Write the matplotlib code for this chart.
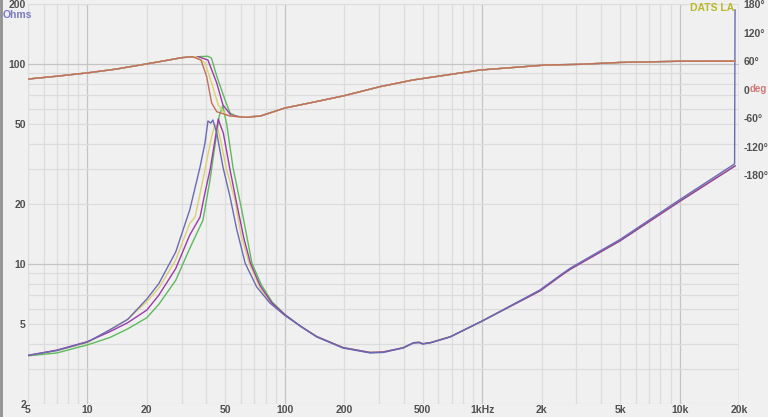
import numpy as np
import matplotlib.pyplot as plt
from matplotlib.lines import Line2D

# impedance sweeps (Hz, ohms), four measurements
blue_f = [5, 7, 10, 13, 16, 20, 23, 28, 33, 37.2, 39.4, 40.8, 42.2, 43.2, 45.2, 48.6, 52.8,
          57, 63, 72, 84, 100, 120, 145, 197, 270, 315, 397, 450, 480, 500, 550, 690, 1000,
          1960, 2560, 2800, 5000, 10000, 18600, 19000, 19100]
blue_z = [3.5, 3.7, 4.08, 4.7, 5.3, 6.7, 8.0, 11.5, 18.7, 30.6, 40.4, 52.0, 50.8, 52.6, 45.3, 30.6, 21.7,
          15.0, 10.1, 7.7, 6.4, 5.55, 4.9, 4.33, 3.81, 3.6, 3.62, 3.81, 4.04, 4.05, 3.99, 4.05, 4.33, 5.2,
          7.43, 9.0, 9.57, 13.3, 21.0, 31.3, 31.8, 187]

yellow_f = [5, 7, 10, 13, 16, 20, 23, 28, 33, 35.1, 37, 39.4, 42.2, 44.3, 46, 46.9, 50.8, 55.9,
            60, 66, 75, 86, 100]
yellow_z = [3.5, 3.7, 4.05, 4.7, 5.3, 6.5, 7.6, 10.5, 16, 17.2, 22, 29.6, 41.8, 50.2, 47, 43.1, 29.6, 20.9,
            14, 10.1, 7.6, 6.3, 5.55]

purple_f = [5, 7, 10, 13, 16, 20, 23, 28, 33, 37.2, 39.5, 41.8, 44.3, 46, 47, 48.8, 52.8, 57.9,
            62, 67, 75, 86, 100]
purple_z = [3.5, 3.72, 4.1, 4.6, 5.1, 5.9, 7.0, 9.5, 14, 17.2, 23, 29.6, 41.8, 53.2, 50, 45.3, 29.6, 18.7,
            13.5, 10.1, 7.8, 6.4, 5.6]

green_f = [5, 7, 10, 13, 16, 20, 23, 28, 33, 38.5, 41.8, 45.2, 46.5, 48.5, 50.8, 54.6, 60.5,
           64, 68.2, 76, 86, 100]
green_z = [3.48, 3.6, 3.95, 4.3, 4.75, 5.4, 6.3, 8.3, 12, 16.6, 26.4, 45.3, 55, 62, 50, 30.6, 18.7,
           14, 10.1, 7.9, 6.5, 5.6]

# shared part above 100 Hz for the three other sweeps
tail_f = [120, 145, 197, 270, 315, 397, 450, 480, 500, 550, 690, 1000, 1960, 2560, 2800,
          5000, 10000, 19100]
tail_z = [4.9, 4.35, 3.83, 3.62, 3.64, 3.82, 4.05, 4.07, 4.0, 4.06, 4.34, 5.2,
          7.35, 8.9, 9.45, 13.1, 20.6, 31.0]

# phase (degrees)
low_f = [5, 7, 10, 14, 20, 25, 30, 34]
low_p = [22, 28, 35, 43, 54, 61, 67, 69]

red_f = [37.6, 40.2, 42.6, 45.2, 52.8, 64.5, 75, 100, 119, 150, 200, 303, 445, 975,
         2100, 3100, 5000, 10000, 19100]
red_p = [62, 27, -28.4, -46.7, -55.8, -58.5, -56, -39, -32.6, -24, -13, 5.9, 20, 41,
         51.6, 53, 57, 59.5, 60]
yellow_pf = [35.5, 39.4, 42.6, 46, 50.4, 57, 66]
yellow_pp = [69, 55.8, 13.7, -32.6, -53.7, -57.5, -57.5]
purple_pf = [36.5, 40.8, 45.2, 48.6, 53.3, 60, 68]
purple_pp = [69, 62, 13.7, -32.6, -53.7, -58, -57]
green_pf = [36, 40.8, 42.5, 45.3, 49.8, 52.8, 57.3, 66]
green_pp = [69, 70, 66, 27, -22, -49.5, -57, -57.5]

xticks = [5, 10, 20, 50, 100, 200, 500, 1000, 2000, 5000, 10000, 20000]
xlabels = ['5', '10', '20', '50', '100', '200', '500', '1kHz', '2k', '5k', '10k', '20k']
yticks = [2, 5, 10, 20, 50, 100, 200]
pticks = [180, 120, 60, 0, -60, -120, -180]

c_blue = '#6a6ab4'
c_yellow = '#ddd070'
c_purple = '#9a3ca8'
c_green = '#5cbb5c'
c_red = '#c0705c'
bg = '#f0f0f0'
txt = '#505050'

plt.rcParams['font.family'] = ['Liberation Sans', 'DejaVu Sans']

fig = plt.figure(figsize=(7.68, 4.17), dpi=100, facecolor=bg)
ax = fig.add_axes([28 / 768, 13 / 417, 711 / 768, 400 / 417])
ax.set_facecolor(bg)
ax.set_xscale('log')
ax.set_yscale('log')
ax.set_xlim(5, 20000)
ax.set_ylim(2, 200)

# grid
for dec in [1, 10, 100, 1000, 10000]:
    for m in range(1, 10):
        f = dec * m
        if f < 5 or f > 20000:
            continue
        col = '#c4c4c4' if m == 1 else '#dcdcdc'
        ax.axvline(f, color=col, lw=0.9, zorder=0)
ax.axvline(20000, color='#c4c4c4', lw=1.0, zorder=0)
for dec in [1, 10, 100]:
    for m in range(1, 10):
        z = dec * m
        if z < 2 or z > 200:
            continue
        col = '#c4c4c4' if m == 1 else '#dcdcdc'
        ax.axhline(z, color=col, lw=0.9, zorder=0)

lw = 1.0
ax.plot(green_f + tail_f, green_z + tail_z, color=c_green, lw=lw)
ax.plot(yellow_f + tail_f, yellow_z + tail_z, color=c_yellow, lw=lw)
ax.plot(purple_f + tail_f, purple_z + tail_z, color=c_purple, lw=lw)
ax.plot(blue_f, blue_z, color=c_blue, lw=lw)

ax2 = ax.twinx()
ax2.set_ylim(-662, 180)
ax2.plot(low_f + green_pf + red_f[6:], low_p + green_pp + red_p[6:], color=c_green, lw=lw)
ax2.plot(low_f + purple_pf + red_f[6:], low_p + purple_pp + red_p[6:], color=c_purple, lw=lw)
ax2.plot(low_f + yellow_pf + red_f[6:], low_p + yellow_pp + red_p[6:], color=c_yellow, lw=lw)
ax2.plot(low_f + red_f, low_p + red_p, color=c_red, lw=lw)

for a in (ax, ax2):
    for s in a.spines.values():
        s.set_visible(False)

ax.set_xticks(xticks)
ax.set_xticklabels(xlabels)
ax.xaxis.set_minor_locator(plt.NullLocator())
ax.set_yticks(yticks)
ax.set_yticklabels([str(t) for t in yticks])
ax.yaxis.set_minor_locator(plt.NullLocator())
ax.tick_params(axis='both', length=0, labelsize=7.5, colors=txt)
ax.tick_params(axis='x', pad=0.5)
ax.tick_params(axis='y', pad=1.5)
for lab in ax.get_xticklabels() + ax.get_yticklabels():
    lab.set_fontweight('bold')

ax2.set_yticks(pticks)
ax2.set_yticklabels([('0' if p == 0 else '%d°' % p) for p in pticks])
ax2.tick_params(axis='y', length=0, labelsize=7.5, colors=txt, pad=3)
for lab in ax2.get_yticklabels():
    lab.set_fontweight('bold')

fig.text(3 / 768, 1 - 15 / 417, 'Ohms', color='#7a7ac0', fontsize=7.5, fontweight='bold',
         va='center', ha='left')
fig.text(750 / 768, 1 - 89 / 417, 'deg', color='#d07878', fontsize=7, fontweight='bold',
         va='center', ha='left')
fig.text(734 / 768, 1 - 8 / 417, 'DATS LA', color='#b8b828', fontsize=7.5, fontweight='bold',
         va='center', ha='right')

fig.add_artist(Line2D([1 / 768, 1 / 768], [0, 1], color='#909090', lw=2))

fig.savefig('out.png', dpi=100, facecolor=bg)
